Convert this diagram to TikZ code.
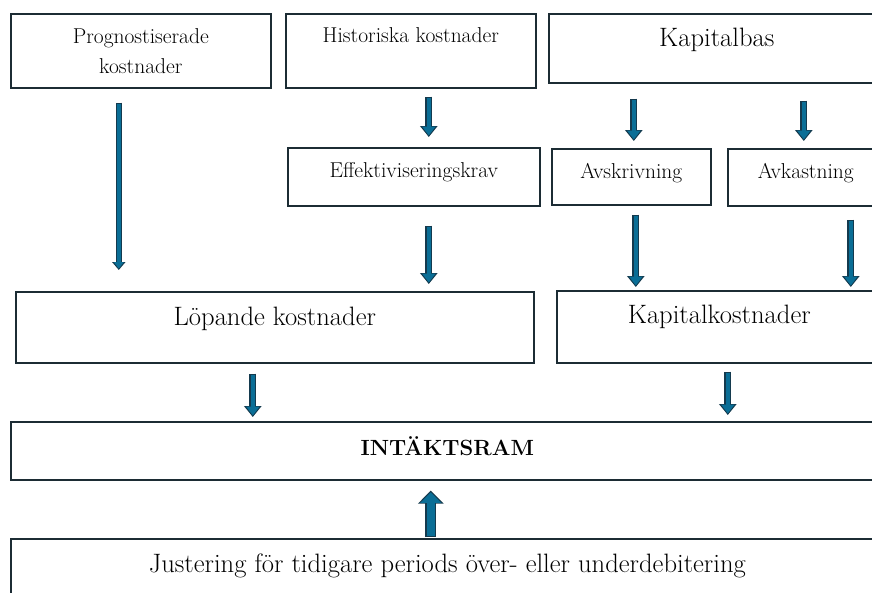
\documentclass[tikz,border=0pt]{standalone}
\usetikzlibrary{arrows.meta}
\definecolor{boxedge}{RGB}{28,44,52}
\definecolor{arrowedge}{RGB}{20,58,78}
\definecolor{arrowblue}{RGB}{10,110,150}
\begin{document}
\begin{tikzpicture}[
  x=1pt,y=-1pt,
  box/.style={draw=boxedge,line width=1.6pt,anchor=north west,inner sep=0pt,
              align=center,text=black,font=\fontsize{21.5}{30}\selectfont},
  bigbox/.style={box,font=\fontsize{26.6}{31}\selectfont},
  flow/.style={draw=arrowedge,line width=7pt,-{Triangle[length=11pt,width=17pt]},
               postaction={draw=arrowblue,line width=4.6pt,shorten >=1.5pt,shorten <=1.2pt,
                           -{Triangle[length=9pt,width=13pt]}}},
  flowthin/.style={draw=arrowedge,line width=6pt,-{Triangle[length=8pt,width=13pt]},
               postaction={draw=arrowblue,line width=3.8pt,shorten >=1.4pt,shorten <=1.2pt,
                           -{Triangle[length=6.5pt,width=9.5pt]}}},
  flowbig/.style={draw=arrowedge,line width=11pt,-{Triangle[length=13pt,width=25pt]},
               postaction={draw=arrowblue,line width=8.6pt,shorten >=1.8pt,shorten <=1.2pt,
                           -{Triangle[length=10.5pt,width=20.5pt]}}},
]
  \useasboundingbox (0,0) rectangle (872,592);
  \clip (0,0) rectangle (872,592);

  % Top row
  \node[box,minimum width=260pt,minimum height=74pt] (prog) at (10,13)
    {Prognostiserade\\kostnader};
  \node[box,minimum width=250pt,text height=29pt,text depth=45pt] (hist) at (285,13)
    {Historiska kostnader};
  \node[bigbox,minimum width=336pt,text height=33pt,text depth=36pt] (kap) at (548,13)
    {Kapitalbas};

  % Middle row
  \node[box,minimum width=252pt,text height=30pt,text depth=28pt] (effekt) at (287,147)
    {Effektiviseringskrav};
  \node[box,minimum width=159pt,text height=30pt,text depth=26pt] (avskr) at (551,148)
    {Avskrivning};
  \node[box,minimum width=156pt,text height=30pt,text depth=27pt] (avkast) at (727,148)
    {Avkastning};

  % Cost blocks
  \node[bigbox,minimum width=518pt,text height=34pt,text depth=37pt] (lop) at (15,291)
    {L\"opande kostnader};
  \node[bigbox,minimum width=325pt,text height=33pt,text depth=39pt] (kapk) at (556,290)
    {Kapitalkostnader};

  % Revenue cap and adjustment
  \node[box,minimum width=873pt,text height=34pt,text depth=24pt,
        font=\fontsize{22}{26}\selectfont\bfseries] (intakt) at (10,421)
    {INT\"AKTSRAM};
  \node[bigbox,minimum width=873pt,text height=34pt,text depth=26pt] (just) at (10,538)
    {Justering f\"or tidigare periods \"over- eller underdebitering};

  % Arrows
  \draw[flowthin] ([xshift=-22pt,yshift=-14pt]prog.south) -- ([xshift=-156pt,yshift=21pt]lop.north);
  \draw[flow] ([xshift=18pt,yshift=-8pt]hist.south) -- ([xshift=15pt,yshift=10pt]effekt.north);
  \draw[flow] ([xshift=15pt,yshift=-19pt]effekt.south) -- ([xshift=154pt,yshift=7pt]lop.north);
  \draw[flow] ([xshift=-83pt,yshift=-15pt]kap.south) -- ([xshift=2.5pt,yshift=7pt]avskr.north);
  \draw[flow] ([xshift=87pt,yshift=-17pt]kap.south) -- ([xshift=-2pt,yshift=7pt]avkast.north);
  \draw[flow] ([xshift=4.5pt,yshift=-9pt]avskr.south) -- ([xshift=-83.5pt,yshift=3pt]kapk.north);
  \draw[flow] ([xshift=45pt,yshift=-13pt]avkast.south) -- ([xshift=131.5pt,yshift=3pt]kapk.north);
  \draw[flow] ([xshift=-22pt,yshift=-10pt]lop.south) -- ([xshift=-194.5pt,yshift=4pt]intakt.north);
  \draw[flow] ([xshift=8.5pt,yshift=-8pt]kapk.south) -- ([xshift=280.5pt,yshift=6pt]intakt.north);
  \draw[flowbig] ([xshift=-16.5pt,yshift=1pt]just.north) -- ([xshift=-16.5pt,yshift=-10pt]intakt.south);
\end{tikzpicture}
\end{document}
